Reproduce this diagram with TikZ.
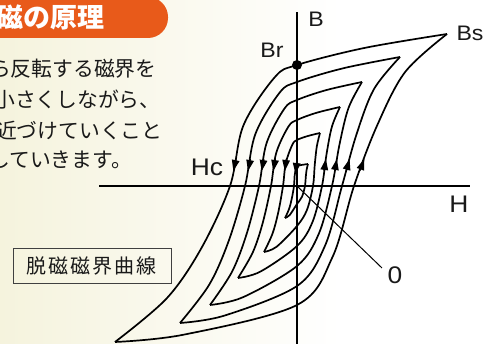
\documentclass[tikz,border=0pt]{standalone}
\usepackage{fontspec}
\setmainfont{Liberation Sans}
\newfontfamily\jp{Noto Sans CJK JP}
\newfontfamily\labfont[FakeStretch=1.1]{Liberation Sans}
\usetikzlibrary{arrows.meta}
\definecolor{cream}{RGB}{245,243,221}
\definecolor{bannerorange}{RGB}{232,90,26}
\definecolor{ink}{RGB}{25,25,25}
% #1 Tu #2 Tv #3 Lu #4 Lv #5 Br #6 Bm #7 Hm #8 Hp
\newcommand\hystloop[8]{%
  \draw[curve] plot[smooth,tension=0.55] coordinates {
    (#1,#2)
    ({0.45*(#1)},{(#5)+((#2)-(#5))*0.55})
    (0,#5)
    ({0.33*(#7)},{0.9*(#5)})
    ({0.8*(#7)},{0.5*(#5)})
    (#7,0)
    ({(#7)+((#3)-(#7))*0.25},{0.4*(#4)})
    ({(#7)+((#3)-(#7))*0.55},{0.72*(#4)})
    (#3,#4)};
  \draw[curve] plot[smooth,tension=0.55] coordinates {
    (#3,#4)
    ({0.62*(#3)},{(#4)+(-(#6)-(#4))*0.2})
    (0,{-(#6)})
    ({0.62*(#8)},{-0.6*(#6)})
    (#8,0)
    ({(#8)+((#1)-(#8))*0.25},{0.4*(#2)})
    ({(#8)+((#1)-(#8))*0.55},{0.75*(#2)})
    (#1,#2)};
}
% down arrow: #1 Hm #2 Br
\newcommand\hdownarrow[2]{%
  \draw[tip] ({(#1)*(1-0.2*27/(0.5*(#2)))},27) -- ({(#1)*(1-0.2*15/(0.5*(#2)))},15);}
% up arrow: #1 Hp #2 Tu #3 Tv
\newcommand\huparrow[3]{%
  \draw[tip] ({(#1)+0.25*((#2)-(#1))*15/(0.4*(#3))},15) -- ({(#1)+0.25*((#2)-(#1))*27/(0.4*(#3))},27);}
\begin{document}
\begin{tikzpicture}[x=1pt,y=1pt,
  curve/.style={line width=1.7pt, line join=round, draw=black},
  axisline/.style={line width=2.7pt, draw=black},
  tip/.style={-{Triangle[length=11pt,width=7.5pt]}, line width=1.3pt},
  lbl/.style={font=\labfont\fontsize{21}{21}\selectfont, inner sep=0pt, text=ink},
  lblh/.style={font=\labfont\fontsize{24}{24}\selectfont, inner sep=0pt, text=ink},
  body/.style={font=\jp\fontsize{20.8}{20.8}\selectfont, inner sep=0pt, anchor=west, text=ink},
]
\useasboundingbox (0,0) rectangle (496,344);
\shade[left color=cream, right color=white] (0,0) rectangle (340,344);
\fill[white] (340,0) rectangle (496,344);

% banner
\fill[bannerorange, rounded corners=20pt] (-30,347) rectangle (168,306);
\node[anchor=west, inner sep=0pt, text=white, font=\jp\bfseries\fontsize{27}{27}\selectfont] (title) at (-4,327) {磁の原理};

% body text
\node[body] (l1) at (-10,275) {ら反転する磁界を};
\node[body] (l2) at (-6,244) {小さくしながら、};
\node[body] (l3) at (-4,213) {近づけていくこと};
\node[body] (l4) at (-11,184) {していきます。};

% label box
\node[draw=black!75, line width=0.8pt, minimum width=158pt, minimum height=35pt, inner sep=0pt,
      font=\jp\fontsize{20}{20}\selectfont, text=ink] (lab) at (92,78.5)
      {脱\kern2pt 磁\kern2pt 磁\kern2pt 界\kern2pt 曲\kern2pt 線};

\begin{scope}[shift={(297,158)}]
  \coordinate (O) at (0,0);
  \coordinate (Btop) at (0,174);
  \coordinate (Bbot) at (0,-160);
  \coordinate (Hleft) at (-198,0);
  \coordinate (Hright) at (173,0);
  \coordinate (zeroend) at (85,-82);
  % loops
  \hystloop{150}{152}{-182}{-156}{121}{119}{-67}{57}
  \hystloop{103}{129}{-117}{-137}{104}{100}{-52}{45}
  \hystloop{65}{104}{-87}{-119}{86}{80}{-38}{35}
  \hystloop{43}{79}{-59}{-92}{66}{60}{-26}{25}
  \hystloop{23}{53}{-33}{-66}{46}{40}{-14}{16}
  \hystloop{11}{22}{-12}{-32}{20}{18}{-3}{8}
  % axes
  \draw[axisline] (Bbot) -- (Btop);
  \draw[axisline] (Hleft) -- (Hright);
  \draw[line width=1pt] (O) -- (zeroend);
  % arrows
  \hdownarrow{-67}{121}
  \hdownarrow{-52}{104}
  \hdownarrow{-38}{86}
  \hdownarrow{-26}{66}
  \hdownarrow{-14}{46}
  \draw[tip] (-0.3,23) -- (-1.5,12);
  \huparrow{57}{150}{152}
  \huparrow{45}{103}{129}
  \huparrow{35}{65}{104}
  \huparrow{25}{43}{79}
  % Br dot
  \fill (0,121) circle (5pt);
  % labels
  \node[lbl] (lB) at (19,167) {B};
  \node[lbl] (lBs) at (173,153) {Bs};
  \node[lbl] (lBr) at (-25,136) {Br};
  \node[lblh] (lHc) at (-90,19) {Hc};
  \node[lblh] (lH) at (162,-18) {H};
  \node[lblh] (l0) at (98,-89) {0};
\end{scope}
\end{tikzpicture}
\end{document}
